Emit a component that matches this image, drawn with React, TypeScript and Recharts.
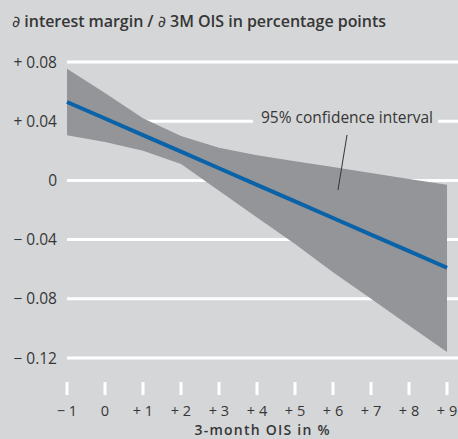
import React from 'react';
import {
  ComposedChart,
  Area,
  Line,
  XAxis,
  YAxis,
  CartesianGrid,
} from 'recharts';

// 3-month OIS level (%) at which the marginal effect is evaluated
const oisLevels = [-1, 0, 1, 2, 3, 4, 5, 6, 7, 8, 9];

// marginal effect of the 3M OIS on the interest margin (pp)
const marginalEffect = [0.053, 0.0418, 0.0306, 0.0194, 0.0082, -0.003, -0.0142, -0.0254, -0.0366, -0.0478, -0.059];

// 95% confidence band
const bandUpper = [0.0755, 0.059, 0.042, 0.03, 0.022, 0.017, 0.013, 0.009, 0.005, 0.001, -0.003];
const bandLower = [0.0305, 0.026, 0.02, 0.011, -0.007, -0.025, -0.043, -0.062, -0.08, -0.098, -0.116];

const yTicks = [0.08, 0.04, 0, -0.04, -0.08, -0.12];

const BG = '#d5d6d8';
const TEXT = '#363636';
const FONT = '"Open Sans", "Noto Sans", sans-serif';

const data = oisLevels.map((x, i) => ({
  x,
  fit: marginalEffect[i],
  band: [bandLower[i], bandUpper[i]],
}));

const signed = (v: number, digits: number) => {
  if (v === 0) return '0';
  const s = Math.abs(v).toFixed(digits);
  return v > 0 ? `+ ${s}` : `\u2212 ${s}`;
};

const YTick = ({ x, y, payload }: any) => (
  <text
    x={x}
    y={y}
    dy="0.36em"
    textAnchor="end"
    fontFamily={FONT}
    fontSize={15.5}
    fill={TEXT}
  >
    {signed(payload.value, 2)}
  </text>
);

const XTick = ({ x, y, payload }: any) => (
  <g>
    <line x1={x} x2={x} y1={y + 24} y2={y + 37} stroke="#fff" strokeWidth={3} />
    <text
      x={x}
      y={y + 57.5}
      textAnchor="middle"
      fontFamily={FONT}
      fontSize={14.5}
      fill={TEXT}
    >
      {signed(payload.value, 0)}
    </text>
  </g>
);

export default function App() {
  return (
    <div
      style={{
        position: 'absolute',
        top: 0,
        left: 0,
        width: 458,
        height: 439,
        background: BG,
        overflow: 'hidden',
      }}
    >
      <ComposedChart
        width={458}
        height={439}
        data={data}
        margin={{ top: 62, right: 0, bottom: 0, left: 0 }}
      >
        <CartesianGrid vertical={false} stroke="#fff" strokeWidth={3} />
        <XAxis
          type="number"
          dataKey="x"
          domain={[-1, 9.289]}
          ticks={oisLevels}
          height={81}
          axisLine={false}
          tickLine={false}
          tickSize={0}
          tickMargin={0}
          tick={<XTick />}
          interval={0}
        />
        <YAxis
          type="number"
          domain={[-0.12, 0.08]}
          ticks={yTicks}
          width={67}
          axisLine={false}
          tickLine={false}
          tickSize={0}
          tickMargin={10}
          tick={<YTick />}
          interval={0}
        />
        <Area
          type="linear"
          dataKey="band"
          stroke="none"
          fill="#939598"
          fillOpacity={1}
          isAnimationActive={false}
        />
        <Line
          type="linear"
          dataKey="fit"
          stroke="#0a62a8"
          strokeWidth={4}
          dot={false}
          activeDot={false}
          isAnimationActive={false}
        />
      </ComposedChart>
      <svg
        width={458}
        height={439}
        style={{ position: 'absolute', top: 0, left: 0, pointerEvents: 'none' }}
      >
        <text x={12} y={27} fontFamily={FONT} fontSize={16} fontWeight={600} fill={TEXT} textLength={374}>
          <tspan fontFamily="'DejaVu Sans', sans-serif" fontWeight={400}>∂</tspan> interest margin /{' '}
          <tspan fontFamily="'DejaVu Sans', sans-serif" fontWeight={400}>∂</tspan> 3M OIS in percentage points
        </text>
        <rect x={253} y={112} width={185} height={18} fill={BG} />
        <text x={261} y={123} fontFamily={FONT} fontSize={15.5} fill={TEXT} textLength={172}>
          95% confidence interval
        </text>
        <line x1={347} y1={135} x2={338} y2={190} stroke="#333" strokeWidth={1} />
        <text x={262} y={435} textAnchor="middle" fontFamily={FONT} fontSize={14} fontWeight={600} fill={TEXT} textLength={135}>
          3-month OIS in %
        </text>
      </svg>
    </div>
  );
}
